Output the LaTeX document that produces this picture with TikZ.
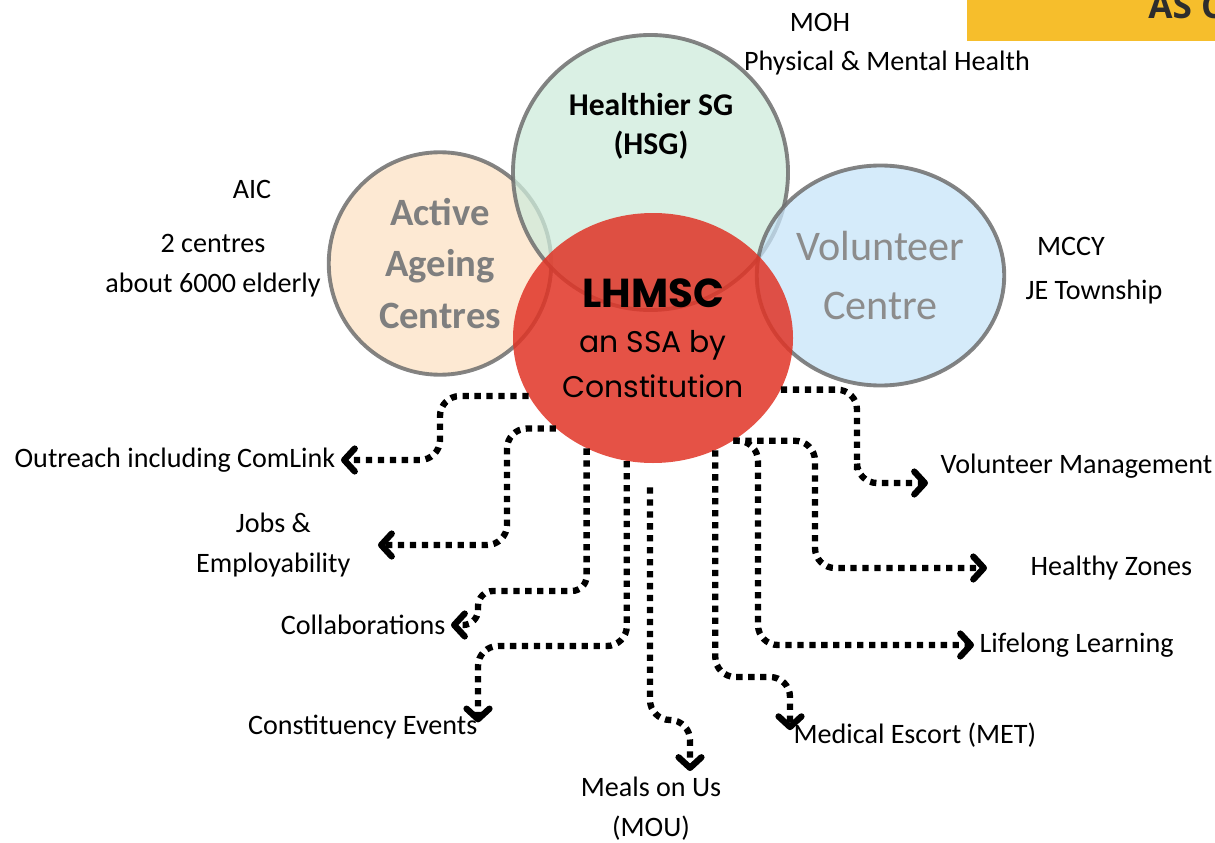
\documentclass[tikz,border=0pt]{standalone}
\usepackage{fontspec}
\setmainfont{Carlito}
\newfontfamily\geofont{Poppins}
\newfontfamily\bannerfont{Open Sans}
\usepackage{xcolor}
\usetikzlibrary{positioning,shapes,arrows.meta}

\definecolor{peachfill}{RGB}{252,226,196}
\definecolor{mintfill}{RGB}{206,235,219}
\definecolor{skyfill}{RGB}{199,228,248}
\definecolor{coral}{RGB}{224,52,38}
\definecolor{ringgrey}{RGB}{110,110,110}
\definecolor{softgrey}{RGB}{127,127,127}
\definecolor{palegrey}{RGB}{140,140,140}
\definecolor{banner}{RGB}{246,190,44}
\definecolor{bannerink}{RGB}{45,45,45}

\begin{document}
\begin{tikzpicture}[
    txt/.style={
        font=\fontsize{16}{22.7}\selectfont,
        align=center,
        inner sep=3pt
    },
    bubble/.style={
        circle,
        draw=ringgrey,
        line width=2.2pt,
        draw opacity=0.85,
        fill opacity=0.75,
        text opacity=1,
        align=center,
        inner sep=0pt
    },
    flow/.style={
        line width=3.6pt,
        dash pattern=on 3.6pt off 3.2pt,
        rounded corners=0.4cm,
        -{Straight Barb[length=6pt,width=13pt,round]}
    }]

    \useasboundingbox (0,0) rectangle (24.3,-16.86);
    \clip (0,0) rectangle (24.3,-16.86);

    % Banner in the corner
    \fill[banner] (19.34,0) rectangle (24.3,-0.83);
    \node[anchor=base west, inner sep=0pt, text=bannerink,
          font=\bannerfont\bfseries\fontsize{20}{20}\selectfont] (bannertext) at (22.96,-0.38) {AS C};

    % Partner circles
    \node[bubble, fill=peachfill, minimum size=4.45cm, text=softgrey,
          font=\bfseries\fontsize{22}{29.5}\selectfont] (aac) at (8.8,-5.27) {Active\\Ageing\\Centres};
    \node[bubble, fill=mintfill, minimum size=5.5cm] (hsg) at (13.01,-3.45) {};
    \node[bubble, ellipse, fill=skyfill, minimum width=4.95cm, minimum height=4.4cm, text=palegrey,
          font=\fontsize{24}{34}\selectfont] (vc) at (17.61,-5.51) {Volunteer\\Centre};
    \node[align=center, font=\bfseries\fontsize{18}{22}\selectfont] (hsgname) at (13.02,-2.53) {Healthier SG\\(HSG)};

    % Centre
    \node[ellipse, fill=coral, fill opacity=0.85, text opacity=1, inner sep=0pt,
          minimum width=5.6cm, minimum height=5cm, align=center,
          font=\geofont\fontsize{17}{25.5}\selectfont] (lhmsc) at (13.06,-6.76)
          {{\bfseries\fontsize{23}{25.5}\selectfont LHMSC}\\an SSA by\\Constitution};

    % Agencies around the circles
    \node[txt] (moh) at (16.4,-0.44) {MOH};
    \node[txt] (mohtopic) at (17.74,-1.26) {Physical \& Mental Health};
    \node[txt] (aic) at (5.04,-3.78) {AIC};
    \node[txt] (aicinfo) at (4.26,-5.32) {2 centres\\about 6000 elderly};
    \node[txt] (mccy) at (21.42,-4.92) {MCCY};
    \node[txt] (township) at (21.88,-5.84) {JE Township};

    % Services
    \node[txt, anchor=east] (outreach) at (6.82,-9.2) {Outreach including ComLink};
    \node[txt, anchor=east] (jobs) at (7.12,-10.9) {Jobs \&\\Employability};
    \node[txt, anchor=east] (collab) at (9.02,-12.5) {Collaborations};
    \node[txt, anchor=east] (events) at (9.66,-14.54) {Constituency Events};
    \node[txt, anchor=north] (meals) at (13.02,-15.42) {Meals on Us\\(MOU)};
    \node[txt, anchor=west] (escort) at (15.76,-14.7) {Medical Escort (MET)};
    \node[txt, anchor=west] (lifelong) at (19.48,-12.9) {Lifelong Learning};
    \node[txt, anchor=west] (zones) at (20.5,-11.36) {Healthy Zones};
    \node[txt, anchor=west] (volmgmt) at (18.7,-9.32) {Volunteer Management};

    % Connect with dotted arrows
    \draw[flow] (lhmsc.205) -| (8.8,-9.2) -- (outreach.east);
    \draw[flow] (lhmsc.223) -| (10.14,-10.9) -- ([xshift=0.44cm]jobs.east);
    \draw[flow, rounded corners=0.3cm] (lhmsc.239) |- (9.56,-11.82) |- (collab.east);
    \draw[flow] (lhmsc.258) |- (9.56,-12.92) -- ([shift={(-0.1,-0.26)}]events.north east);
    \draw[flow] ([shift={(-0.06,-0.48)}]lhmsc.south) |- (13.8,-14.4) -- ([xshift=0.78cm]meals.north);
    \draw[flow] (lhmsc.299) |- (15.8,-13.54) -- ([shift={(0.04,-0.26)}]escort.north west);
    \draw[flow] (lhmsc.308) -| (15.16,-11) |- (lifelong.west);
    \draw[flow] (lhmsc.308) -| (16.3,-10) |- ([xshift=-0.76cm]zones.west);
    \draw[flow] (lhmsc.338) -| (17.14,-9) |- ([shift={(-0.14,-0.34)}]volmgmt.west);
\end{tikzpicture}
\end{document}
